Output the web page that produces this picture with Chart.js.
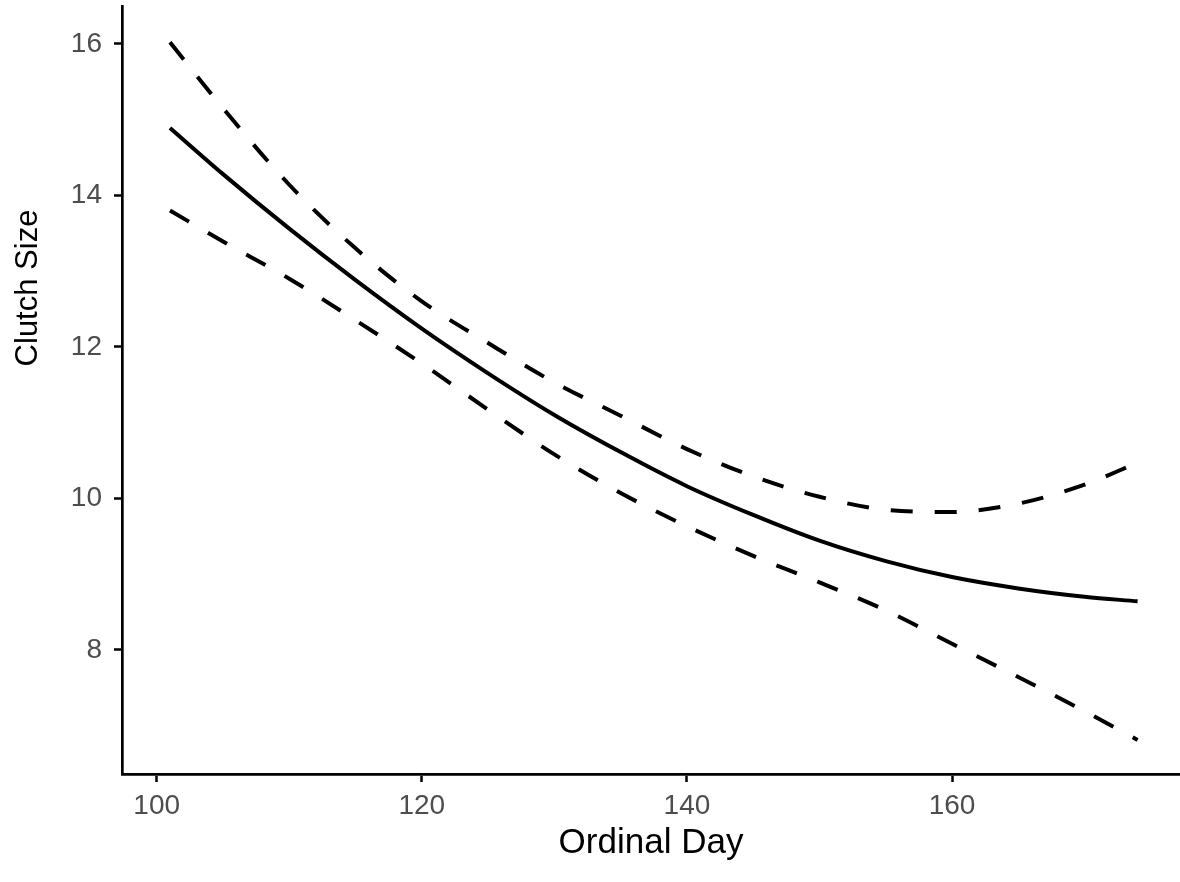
<!DOCTYPE html>
<html>
<head>
<meta charset="utf-8">
<script src="https://cdn.jsdelivr.net/npm/chart.js@4.4.1/dist/chart.umd.min.js"></script>
<style>
  html, body { margin: 0; padding: 0; background: #fff; }
  #wrap { width: 1180px; height: 882px; }
</style>
</head>
<body>
<div id="wrap"><canvas id="clutchChart"></canvas></div>
<script>
// values
const days = [101, 105, 110, 115, 120, 125, 130, 135, 140, 145, 150, 155, 160, 165, 170, 174];
const fitted = [14.89, 14.28, 13.56, 12.88, 12.24, 11.65, 11.10, 10.61, 10.16, 9.78, 9.44, 9.17, 8.96, 8.81, 8.70, 8.64];
const upperCI = [16.02, 15.15, 14.14, 13.30, 12.60, 12.05, 11.53, 11.09, 10.65, 10.29, 10.02, 9.85, 9.82, 9.93, 10.18, 10.47];
const lowerCI = [13.80, 13.39, 12.90, 12.35, 11.78, 11.17, 10.58, 10.07, 9.63, 9.24, 8.89, 8.52, 8.08, 7.64, 7.19, 6.81];
const xTicks = [100, 120, 140, 160];
const yTicks = [8, 10, 12, 14, 16];
const xTitle = 'Ordinal Day';
const yTitle = 'Clutch Size';

const fontFamily = '"Liberation Sans", Arial, sans-serif';

function toPoints(ys) {
  return days.map((d, i) => ({ x: d, y: ys[i] }));
}

function lineSet(label, ys, dashed) {
  return {
    label: label,
    data: toPoints(ys),
    borderColor: '#000',
    borderWidth: 4,
    borderDash: dashed ? [22, 22] : [],
    borderCapStyle: 'butt',
    pointRadius: 0,
    fill: false,
    cubicInterpolationMode: 'monotone',
  };
}

// y title sits above the middle of the axis in the original, so draw it by hand
const yTitlePlugin = {
  id: 'yTitle',
  afterDraw(chart) {
    const ctx = chart.ctx;
    ctx.save();
    ctx.translate(28, 288);
    ctx.rotate(-Math.PI / 2);
    ctx.font = '31px ' + fontFamily;
    ctx.fillStyle = '#000';
    ctx.textAlign = 'center';
    ctx.textBaseline = 'middle';
    ctx.fillText(yTitle, 0, 0);
    ctx.restore();
  },
};

const config = {
  type: 'line',
  data: {
    datasets: [
      lineSet('Upper', upperCI, true),
      lineSet('Fitted', fitted, false),
      lineSet('Lower', lowerCI, true),
    ],
  },
  options: {
    responsive: true,
    maintainAspectRatio: false,
    animation: false,
    layout: { padding: { top: 6, right: 0, bottom: 0, left: 0 } },
    plugins: {
      legend: { display: false },
      tooltip: { enabled: false },
    },
    scales: {
      x: {
        type: 'linear',
        min: 97.38,
        max: 177.2,
        afterBuildTicks: (scale) => {
          scale.ticks = xTicks.map((v) => ({ value: v }));
        },
        afterFit: (scale) => {
          scale.height = 108;
          scale.paddingLeft = 0;
          scale.paddingRight = 0;
        },
        grid: {
          display: true,
          drawOnChartArea: false,
          drawTicks: true,
          tickLength: 8,
          tickColor: '#000',
          tickWidth: 2.5,
        },
        border: { display: true, color: '#000', width: 2.7 },
        ticks: {
          color: '#4d4d4d',
          font: { family: fontFamily, size: 28 },
          padding: 7,
          maxRotation: 0,
        },
        title: {
          display: true,
          text: xTitle,
          color: '#000',
          font: { family: fontFamily, size: 35 },
          padding: { top: 0, bottom: 18 },
        },
      },
      y: {
        type: 'linear',
        min: 6.36,
        max: 16.5,
        afterBuildTicks: (scale) => {
          scale.ticks = yTicks.map((v) => ({ value: v }));
        },
        afterFit: (scale) => {
          scale.width = 122;
          scale.paddingTop = 0;
          scale.paddingBottom = 0;
        },
        grid: {
          display: true,
          drawOnChartArea: false,
          drawTicks: true,
          tickLength: 8,
          tickColor: '#000',
          tickWidth: 2.5,
        },
        border: { display: true, color: '#000', width: 2.7 },
        ticks: {
          color: '#4d4d4d',
          font: { family: fontFamily, size: 28 },
          padding: 12,
        },
      },
    },
  },
  plugins: [yTitlePlugin],
};

const ctx = document.getElementById('clutchChart').getContext('2d');
const clutchChart = new Chart(ctx, config);
</script>
</body>
</html>
